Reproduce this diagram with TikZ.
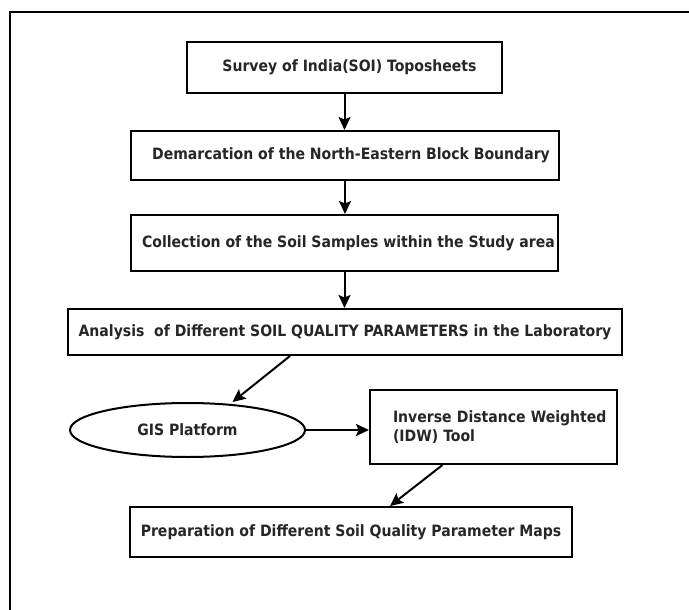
\documentclass[tikz,border=0pt]{standalone}
\usepackage{fontspec}
\setmainfont{DejaVu Sans Condensed}
\usetikzlibrary{shapes.geometric,arrows.meta}
\begin{document}
\begin{tikzpicture}[x=1pt,y=-1pt,
  box/.style={draw,line width=2pt,rectangle,inner sep=0pt,align=center,
    font=\fontsize{15.6}{19}\selectfont\bfseries,text=black!85},
  conn/.style={line width=2pt,-{Stealth[length=13pt,width=12pt,inset=2.5pt]}}]
\useasboundingbox (0,0) rectangle (689,610);
% outer frame (top and left edges only)
\draw[line width=2.5pt] (10,612) -- (10,12) -- (689,12);
\node[box,minimum width=315pt,minimum height=51pt] (b1) at (344.5,67.5) {\hspace*{10pt}Survey of India(SOI) Toposheets};
\node[box,minimum width=428pt,minimum height=49pt] (b2) at (345,155.5) {\hspace*{12pt}Demarcation of the North-Eastern Block Boundary};
\node[box,minimum width=427pt,minimum height=56pt] (b3) at (344.5,243) {\hspace*{8pt}Collection of the Soil Samples within the Study area};
\node[box,minimum width=554pt,minimum height=46pt] (b4) at (345,332) {Analysis\ \ of Different SOIL QUALITY PARAMETERS in the Laboratory};
\node[box,ellipse,minimum width=235pt,minimum height=54pt] (gis) at (187.5,430) {GIS Platform};
\node[box,minimum width=247pt,minimum height=74pt,align=left,text width=237pt,inner xsep=5pt] (idw) at (493.5,427) {\hspace*{18pt}Inverse Distance Weighted\\\hspace*{18pt}(IDW) Tool};
\node[box,minimum width=442pt,minimum height=50pt] (b5) at (351,532) {Preparation of Different Soil Quality Parameter Maps};
\draw[conn] (b1.south) -- (b2.north -| b1.south);
\draw[conn] (b2.south) -- (b3.north -| b2.south);
\draw[conn] (b3.south) -- (b4.north -| b3.south);
\draw[conn] ([xshift=-55pt]b4.south) -- ([xshift=45pt]gis.north);
\draw[conn] (gis.east) -- (gis.east -| idw.west);
\draw[conn] ([xshift=-51pt]idw.south) -- ([xshift=39pt]b5.north);
\end{tikzpicture}
\end{document}
